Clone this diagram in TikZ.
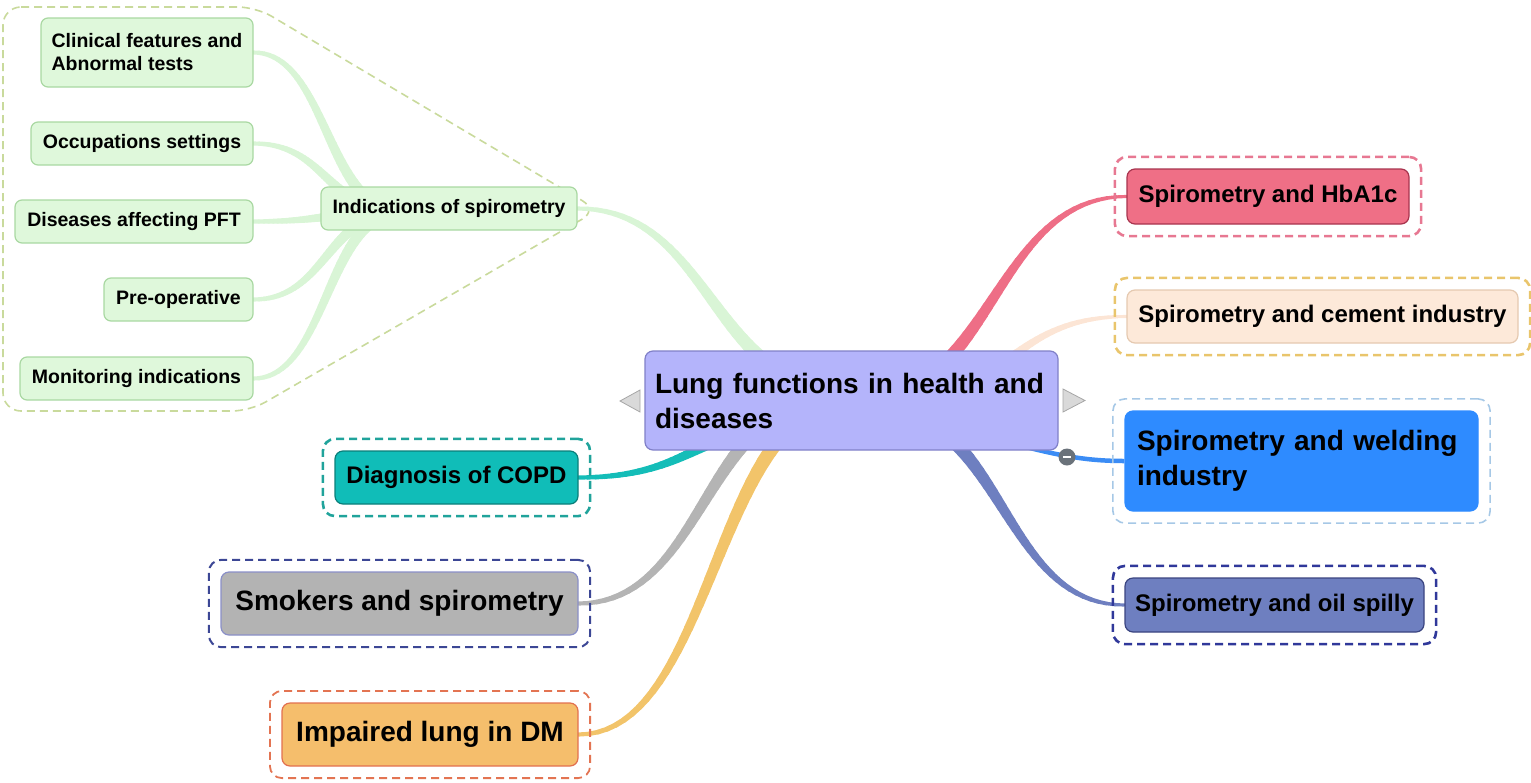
\documentclass[tikz,border=0pt]{standalone}
\usepackage{fontspec}
\setmainfont{Liberation Sans}
\usetikzlibrary{calc,fit}
\pgfdeclarelayer{background}
\pgfsetlayers{background,main}
\definecolor{cfill}{HTML}{B4B4FB}\definecolor{cborder}{HTML}{8080C8}
\definecolor{hbfill}{HTML}{EF6F86}\definecolor{hbborder}{HTML}{A8344E}\definecolor{hbhalo}{HTML}{E77892}
\definecolor{cefill}{HTML}{FDE9D9}\definecolor{ceborder}{HTML}{E5C9B0}\definecolor{cehalo}{HTML}{E9C56C}
\definecolor{wefill}{HTML}{2E8BFF}\definecolor{wehalo}{HTML}{A6C8E6}
\definecolor{oifill}{HTML}{6E7FC0}\definecolor{oiborder}{HTML}{3A4480}\definecolor{oihalo}{HTML}{30389A}
\definecolor{cofill}{HTML}{10BDB8}\definecolor{coborder}{HTML}{0A7F7A}\definecolor{cohalo}{HTML}{20A39B}
\definecolor{smfill}{HTML}{B3B3B3}\definecolor{smborder}{HTML}{8A8FC8}\definecolor{smhalo}{HTML}{3C4795}
\definecolor{dmfill}{HTML}{F5BE6C}\definecolor{dmborder}{HTML}{E2704F}\definecolor{dmhalo}{HTML}{E37452}
\definecolor{gfill}{HTML}{DFF8DB}\definecolor{gborder}{HTML}{A9D8A2}\definecolor{ghalo}{HTML}{C9DA9C}
\definecolor{gline}{HTML}{D9F5D6}\definecolor{rline}{HTML}{EE6E86}\definecolor{pline}{HTML}{FCE5D5}
\definecolor{bline}{HTML}{3B8CF5}\definecolor{sline}{HTML}{6E7FC0}\definecolor{tline}{HTML}{14BDB8}
\definecolor{grline}{HTML}{B4B4B4}\definecolor{oline}{HTML}{F2C46A}
\definecolor{foldc}{HTML}{6A727A}
% tapered S-shaped connector: colour, from, to, width at start, width at end
\newcommand\taper[5]{%
  \path (#2) coordinate (tA) (#3) coordinate (tB);
  \foreach \i in {0,...,39}{%
    \pgfmathsetmacro\lw{#4+(#5-#4)*(\i+0.5)/40}
    \draw[#1, line cap=round, line width=\lw pt]
      let \p1=(tA), \p2=(tB), \n1={\i/40}, \n2={(\i+1)/40} in
      ({\x1+(\x2-\x1)*(1.5*\n1*(1-\n1)+\n1*\n1*\n1)}, {\y1+(\y2-\y1)*(3*\n1*\n1-2*\n1*\n1*\n1)})
      -- ({\x1+(\x2-\x1)*(1.5*\n2*(1-\n2)+\n2*\n2*\n2)}, {\y1+(\y2-\y1)*(3*\n2*\n2-2*\n2*\n2*\n2)});
  }}
\begin{document}
\begin{tikzpicture}[x=1pt,y=-1pt,
  box/.style={rectangle, rounded corners=8pt, line width=1.2pt, inner sep=0pt, align=center, text=black},
  small/.style={font=\fontsize{19.5}{23}\selectfont\bfseries},
  mid/.style={font=\fontsize{24}{29}\selectfont\bfseries},
  big/.style={font=\fontsize{28}{35}\selectfont\bfseries},
  gbox/.style={box, small, fill=gfill, draw=gborder, rounded corners=7pt, minimum height=43pt},
  halo/.style={draw=#1, rounded corners=12pt, inner sep=11.5pt, line width=2.6pt, dash pattern=on 8pt off 5pt},
  tri/.style={fill=gray!30, draw=gray!70, line width=0.8pt}]
\useasboundingbox (0,0) rectangle (1531,782);

% central node
\node[box, big, fill=cfill, draw=cborder, text width=393pt, align=left, inner xsep=10pt, minimum height=99pt] (c) at (851.5,400.5) {Lung functions in health and\\diseases};

% right side
\node[box, mid, fill=hbfill, draw=hbborder, minimum width=282pt, minimum height=55pt] (hb) at (1268,196.5) {Spirometry and HbA1c};
\node[box, mid, fill=cefill, draw=ceborder, minimum width=391pt, minimum height=53pt] (cem) at (1322.5,316.5) {Spirometry and cement industry};
\node[box, big, fill=wefill, draw=wefill, text width=329pt, align=left, inner xsep=12pt, minimum height=100pt] (wel) at (1301.5,461) {Spirometry and welding\\industry};
\node[box, mid, fill=oifill, draw=oiborder, minimum width=299pt, minimum height=54pt] (oil) at (1274.5,605) {Spirometry and oil spilly};

% left side
\node[box, mid, fill=cofill, draw=coborder, minimum width=243pt, minimum height=53pt] (copd) at (456.5,477.5) {Diagnosis of COPD};
\node[box, big, fill=smfill, draw=smborder, minimum width=357pt, minimum height=63pt] (smk) at (399.5,603.5) {Smokers and spirometry};
\node[box, big, fill=dmfill, draw=dmborder, minimum width=296pt, minimum height=63pt] (dm) at (430,734.5) {Impaired lung in DM};

% green cluster
\node[gbox, minimum width=256pt] (ind) at (449,208.5) {Indications of spirometry};
\node[gbox, minimum width=212pt, minimum height=69pt, align=left] (cli) at (147,52.5) {Clinical features and\\Abnormal tests};
\node[gbox, minimum width=222pt] (occ) at (142,143.5) {Occupations settings};
\node[gbox, minimum width=238pt] (dis) at (134,221.5) {Diseases affecting PFT};
\node[gbox, minimum width=149pt] (pre) at (178.5,299.5) {Pre-operative};
\node[gbox, minimum width=233pt] (mon) at (136.5,378.5) {Monitoring indications};

% dashed halos
\node[halo=hbhalo, fit=(hb)] (hbh) {};
\node[halo=cehalo, fit=(cem)] (cemh) {};
\node[halo=wehalo, fit=(wel), line width=1.6pt] (welh) {};
\node[halo=oihalo, fit=(oil)] (oilh) {};
\node[halo=cohalo, fit=(copd)] (copdh) {};
\node[halo=smhalo, fit=(smk), line width=2pt] (smkh) {};
\node[halo=dmhalo, fit=(dm), line width=1.8pt] (dmh) {};

% collapse triangles and fold marker
\draw[tri] (640,390) -- (640,412) -- (620,401) -- cycle;
\draw[tri] (1063,389) -- (1063,412) -- (1085,400.5) -- cycle;

% hidden end points behind the central node
\coordinate (cInd) at (845,390);
\coordinate (cHb) at (860,400);
\coordinate (cCem) at (880,410);
\coordinate (cWel) at (1000,440);
\coordinate (cOil) at (880,410);
\coordinate (cCopd) at (820,420);
\coordinate (cSmk) at (830,400);
\coordinate (cDm) at (850,400);
\coordinate (cHub) at (400,212);

\begin{pgfonlayer}{background}
  \draw[ghalo, line width=1.6pt, dash pattern=on 8pt off 5pt, rounded corners=18pt]
    (3,7) -- (256,7) -- (598,210) -- (250,411) -- (3,411) -- cycle;
  \taper{gline}{cli.east}{cHub}{4}{13}
  \taper{gline}{occ.east}{cHub}{4}{13}
  \taper{gline}{dis.east}{cHub}{4}{13}
  \taper{gline}{pre.east}{cHub}{4}{13}
  \taper{gline}{mon.east}{cHub}{4}{13}
  \taper{gline}{ind.east}{cInd}{4}{17}
  \taper{rline}{hb.west}{cHb}{3}{17}
  \taper{pline}{cem.west}{cCem}{3}{15}
  \taper{sline}{oil.west}{cOil}{3}{17}
  \taper{tline}{copd.east}{cCopd}{4}{15}
  \taper{grline}{smk.east}{cSmk}{4}{17}
  \taper{oline}{dm.east}{cDm}{4}{17}
  \draw[bline, line width=4.5pt] (wel.west) .. controls (1090,461) and (1060,457) .. (cWel);
\end{pgfonlayer}

\node[circle, fill=foldc, minimum size=17pt, inner sep=0pt] (fold) at (1067,457) {};
\draw[white, line width=2pt] ($(fold)+(-4pt,0pt)$) -- ($(fold)+(4pt,0pt)$);
\end{tikzpicture}
\end{document}
